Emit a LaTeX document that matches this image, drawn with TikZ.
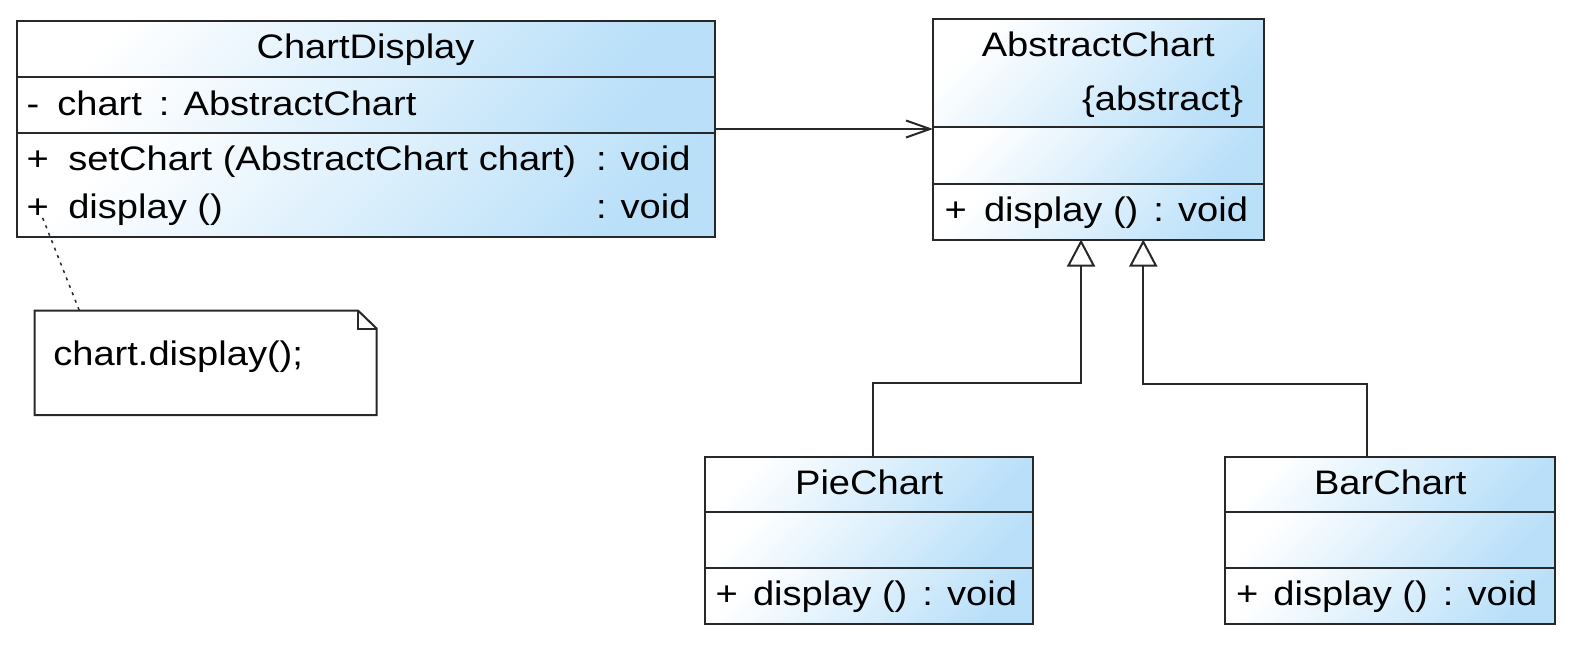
\documentclass[tikz,border=0pt]{standalone}
\usepackage{fontspec}
\setmainfont{Liberation Sans}[FakeStretch=1.12]
\usetikzlibrary{arrows.meta}
\definecolor{umlblue}{RGB}{186,224,249}
\definecolor{umlline}{RGB}{40,40,40}
\begin{document}
\begin{tikzpicture}[x=1pt,y=-1pt,
  comp/.style={shade, top color=white, bottom color=umlblue, shading angle=45, draw=umlline, line width=2pt, inner sep=0pt, outer sep=0pt, anchor=north west},
  classbox/.style={draw=umlline, line width=2pt, inner sep=0pt, outer sep=0pt, anchor=north west},
  txt/.style={inner sep=0pt, outer sep=0pt, font=\fontsize{34}{40}\selectfont, text=black},
  conn/.style={draw=umlline, line width=2pt},
  gen/.style={conn, -{Triangle[open, length=27pt, width=28pt]}},
  assoc/.style={conn, -{Straight Barb[length=24pt, width=17pt]}},
  notedots/.style={draw=umlline, line width=1.5pt, dash pattern=on 3pt off 5pt},
]
\useasboundingbox (0,0) rectangle (1596,658);

% ChartDisplay
\node[comp, minimum width=698pt, minimum height=55.7pt] (cdH) at (16.5,21) {};
\node[comp, minimum width=698pt, minimum height=56pt] (cdA) at (16.5,76.7) {};
\node[comp, minimum width=698pt, minimum height=104.3pt] (cdO) at (16.5,132.7) {};
\node[classbox, minimum width=698pt, minimum height=216pt] (cd) at (16.5,21) {};
\node[txt, anchor=base] (cdT) at (365.5,59) {ChartDisplay};
\node[txt, anchor=base west] (cdAs) at (26.7,116) {-};
\node[txt, anchor=base west] (cdAt) at (57.3,116) {chart\hspace{17pt}: AbstractChart};
\node[txt, anchor=base west] (cdO1s) at (26.7,171) {+};
\node[txt, anchor=base west] (cdO1t) at (68.3,171) {setChart (AbstractChart chart)};
\node[txt, anchor=base west] (cdO1r) at (596,171) {: void};
\node[txt, anchor=base west] (cdO2s) at (26.7,218) {+};
\node[txt, anchor=base west] (cdO2t) at (68.3,218) {display ()};
\node[txt, anchor=base west] (cdO2r) at (596,218) {: void};

% AbstractChart
\node[comp, minimum width=330.5pt, minimum height=108.4pt] (acH) at (933,19) {};
\node[comp, minimum width=330.5pt, minimum height=56.2pt] (acA) at (933,127.4) {};
\node[comp, minimum width=330.5pt, minimum height=55.9pt] (acO) at (933,183.6) {};
\node[classbox, minimum width=330.5pt, minimum height=220.5pt] (ac) at (933,19) {};
\node[txt, anchor=base] (acT) at (1098.2,57) {AbstractChart};
\node[txt, anchor=base east] (acS) at (1243,111) {\{abstract\}};
\node[txt, anchor=base west] (acOs) at (944.6,221) {+};
\node[txt, anchor=base west] (acOt) at (984,221) {display ()\hspace{15pt}: void};

% PieChart
\node[comp, minimum width=328.4pt, minimum height=55.3pt] (pieH) at (705,456.7) {};
\node[comp, minimum width=328.4pt, minimum height=56pt] (pieA) at (705,512) {};
\node[comp, minimum width=328.4pt, minimum height=56pt] (pieO) at (705,568) {};
\node[classbox, minimum width=328.4pt, minimum height=167.3pt] (pie) at (705,456.7) {};
\node[txt, anchor=base] (pieT) at (869.2,494.5) {PieChart};
\node[txt, anchor=base west] (pieOs) at (715.6,605.5) {+};
\node[txt, anchor=base west] (pieOt) at (753,605.5) {display ()\hspace{15pt}: void};

% BarChart
\node[comp, minimum width=330.4pt, minimum height=55.3pt] (barH) at (1225,456.7) {};
\node[comp, minimum width=330.4pt, minimum height=56pt] (barA) at (1225,512) {};
\node[comp, minimum width=330.4pt, minimum height=56pt] (barO) at (1225,568) {};
\node[classbox, minimum width=330.4pt, minimum height=167.3pt] (bar) at (1225,456.7) {};
\node[txt, anchor=base] (barT) at (1390.2,494.5) {BarChart};
\node[txt, anchor=base west] (barOs) at (1236,605.5) {+};
\node[txt, anchor=base west] (barOt) at (1273.4,605.5) {display ()\hspace{15pt}: void};

% Note
\node[inner sep=0pt, outer sep=0pt, minimum width=342pt, minimum height=104.3pt, anchor=north west] (note) at (34.6,310.7) {};
\draw[conn] (note.north west) -- ([xshift=-18.4pt]note.north east) -- ([yshift=-17.8pt]note.north east) -- (note.south east) -- (note.south west) -- cycle;
\draw[conn] ([xshift=-18.4pt]note.north east) -- ++(0,17.8) -- ([yshift=-17.8pt]note.north east);
\node[txt, anchor=base west] (noteT) at (53.3,365.7) {chart.display();};

% Connectors
\draw[assoc] (cd.east) -- (cd.east -| ac.west);
\draw[gen] ([xshift=3.5pt]pie.north) -- ++(0,-73.7) -| ([xshift=-17.2pt]ac.south);
\draw[gen] ([xshift=-23.5pt]bar.north) -- ++(0,-72.4) -| ([xshift=45pt]ac.south);
\coordinate (cdPlus) at (42.7,218);
\draw[notedots] (cdPlus) -- ([xshift=45.4pt, yshift=-1.5pt]note.north west);
\end{tikzpicture}
\end{document}
